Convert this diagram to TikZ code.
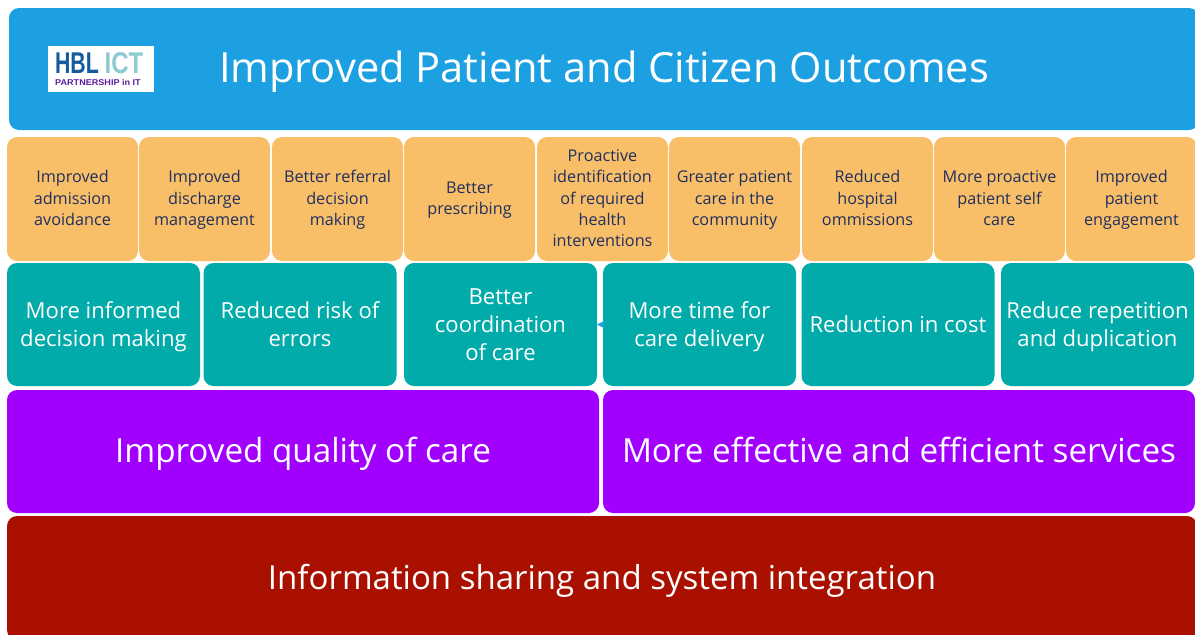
\documentclass[tikz,border=0pt]{standalone}
\usepackage{fontspec}
\setmainfont{Open Sans}
\newfontfamily\logofont{Liberation Sans}
\definecolor{topblue}{HTML}{1CA0E2}
\definecolor{orangebox}{HTML}{F9BF68}
\definecolor{tealbox}{HTML}{00ABA9}
\definecolor{purplebox}{HTML}{A100FF}
\definecolor{redbox}{HTML}{AA1000}
\definecolor{navytext}{HTML}{1F2F5F}
\definecolor{logoblue}{HTML}{125C9C}
\definecolor{logopale}{HTML}{8CCBD2}
\definecolor{logopurple}{HTML}{5B1FA0}
\newcommand{\cardtext}[3]{\rule{0pt}{#1pt}#3\rule[-#2pt]{0pt}{#2pt}}
\tikzset{
  x=1pt,y=-1pt,
  card/.style={rounded corners=10pt,inner sep=0pt,align=center,anchor=center,text=white,draw=none},
  blue card/.style={card,fill=topblue,font=\fontsize{41.6}{50}\selectfont,minimum width=1190pt,minimum height=122pt},
  orange card/.style={card,fill=orangebox,text=navytext,font=\fontsize{16.2}{21.1}\selectfont,minimum width=131pt,minimum height=124pt},
  teal card/.style={card,fill=tealbox,font=\fontsize{22.1}{28}\selectfont,minimum width=193pt,minimum height=123pt},
  purple card/.style={card,fill=purplebox,font=\fontsize{33.2}{40}\selectfont,minimum width=592pt,minimum height=123pt},
  red card/.style={card,fill=redbox,font=\fontsize{33}{40}\selectfont,minimum width=1190pt,minimum height=124pt},
  logo text/.style={inner sep=0pt,anchor=base},
}
\begin{document}
\begin{tikzpicture}
\useasboundingbox (0,0) rectangle (1195,635);
\clip (0,0) rectangle (1195,635);
\node[blue card] (top) at (604,69) {\cardtext{62}{36}{Improved Patient and Citizen Outcomes}};
\node[fill=white,minimum width=106pt,minimum height=46pt,inner sep=0pt] (logo) at (101,69) {};
\node[logo text,text=logoblue] (logoa) at (77,73) {\logofont\bfseries\fontsize{30}{30}\selectfont\scalebox{.71}[1]{HBL}};
\node[logo text,text=logopale] (logob) at (124,73) {\logofont\bfseries\fontsize{30}{30}\selectfont\scalebox{.8}[1]{ICT}};
\node[logo text,text=logopurple] (logoc) at (98,85) {\logofont\bfseries\fontsize{8.4}{9}\selectfont\scalebox{1.08}[1]{PARTNERSHIP in IT}};

\node[orange card] (o1) at (72.5,199) {\cardtext{22}{12}{Improved\\admission\\avoidance}};
\node[orange card] (o2) at (204.5,199) {\cardtext{22}{12}{Improved\\discharge\\management}};
\node[orange card] (o3) at (337.5,199) {\cardtext{22}{12}{Better referral\\decision\\making}};
\node[orange card] (o4) at (469.5,199) {\cardtext{22}{12}{Better\\prescribing}};
\node[orange card] (o5) at (602.5,199) {\cardtext{22}{12}{Proactive\\identification\\of required\\health\\interventions}};
\node[orange card] (o6) at (734.5,199) {\cardtext{22}{12}{Greater patient\\care in the\\community}};
\node[orange card] (o7) at (867.5,199) {\cardtext{22}{12}{Reduced\\hospital\\ommissions}};
\node[orange card] (o8) at (999.5,199) {\cardtext{22}{12}{More proactive\\patient self\\care}};
\node[orange card] (o9) at (1131.5,199) {\cardtext{22}{12}{Improved\\patient\\engagement}};

\node[teal card] (t1) at (103.5,324.5) {\cardtext{36}{20}{More informed\\decision making}};
\node[teal card] (t2) at (300,324.5) {\cardtext{36}{20}{Reduced risk of\\errors}};
\node[teal card] (t3) at (500.5,324.5) {\cardtext{36}{20}{Better\\coordination\\of care}};
\node[teal card] (t4) at (699.5,324.5) {\cardtext{36}{20}{More time for\\care delivery}};
\node[teal card] (t5) at (898,324.5) {\cardtext{36}{20}{Reduction in cost}};
\node[teal card] (t6) at (1097.5,324.5) {\cardtext{36}{20}{Reduce repetition\\and duplication}};
\fill[topblue] (597,324.5) -- (604,321) -- (604,328) -- cycle;

\node[purple card] (p1) at (303,451.5) {\cardtext{50}{28}{Improved quality of care}};
\node[purple card] (p2) at (899,451.5) {\cardtext{50}{28}{More effective and efficient services}};
\node[red card] (r) at (602,578) {\cardtext{52}{30}{Information sharing and system integration}};
\end{tikzpicture}
\end{document}
